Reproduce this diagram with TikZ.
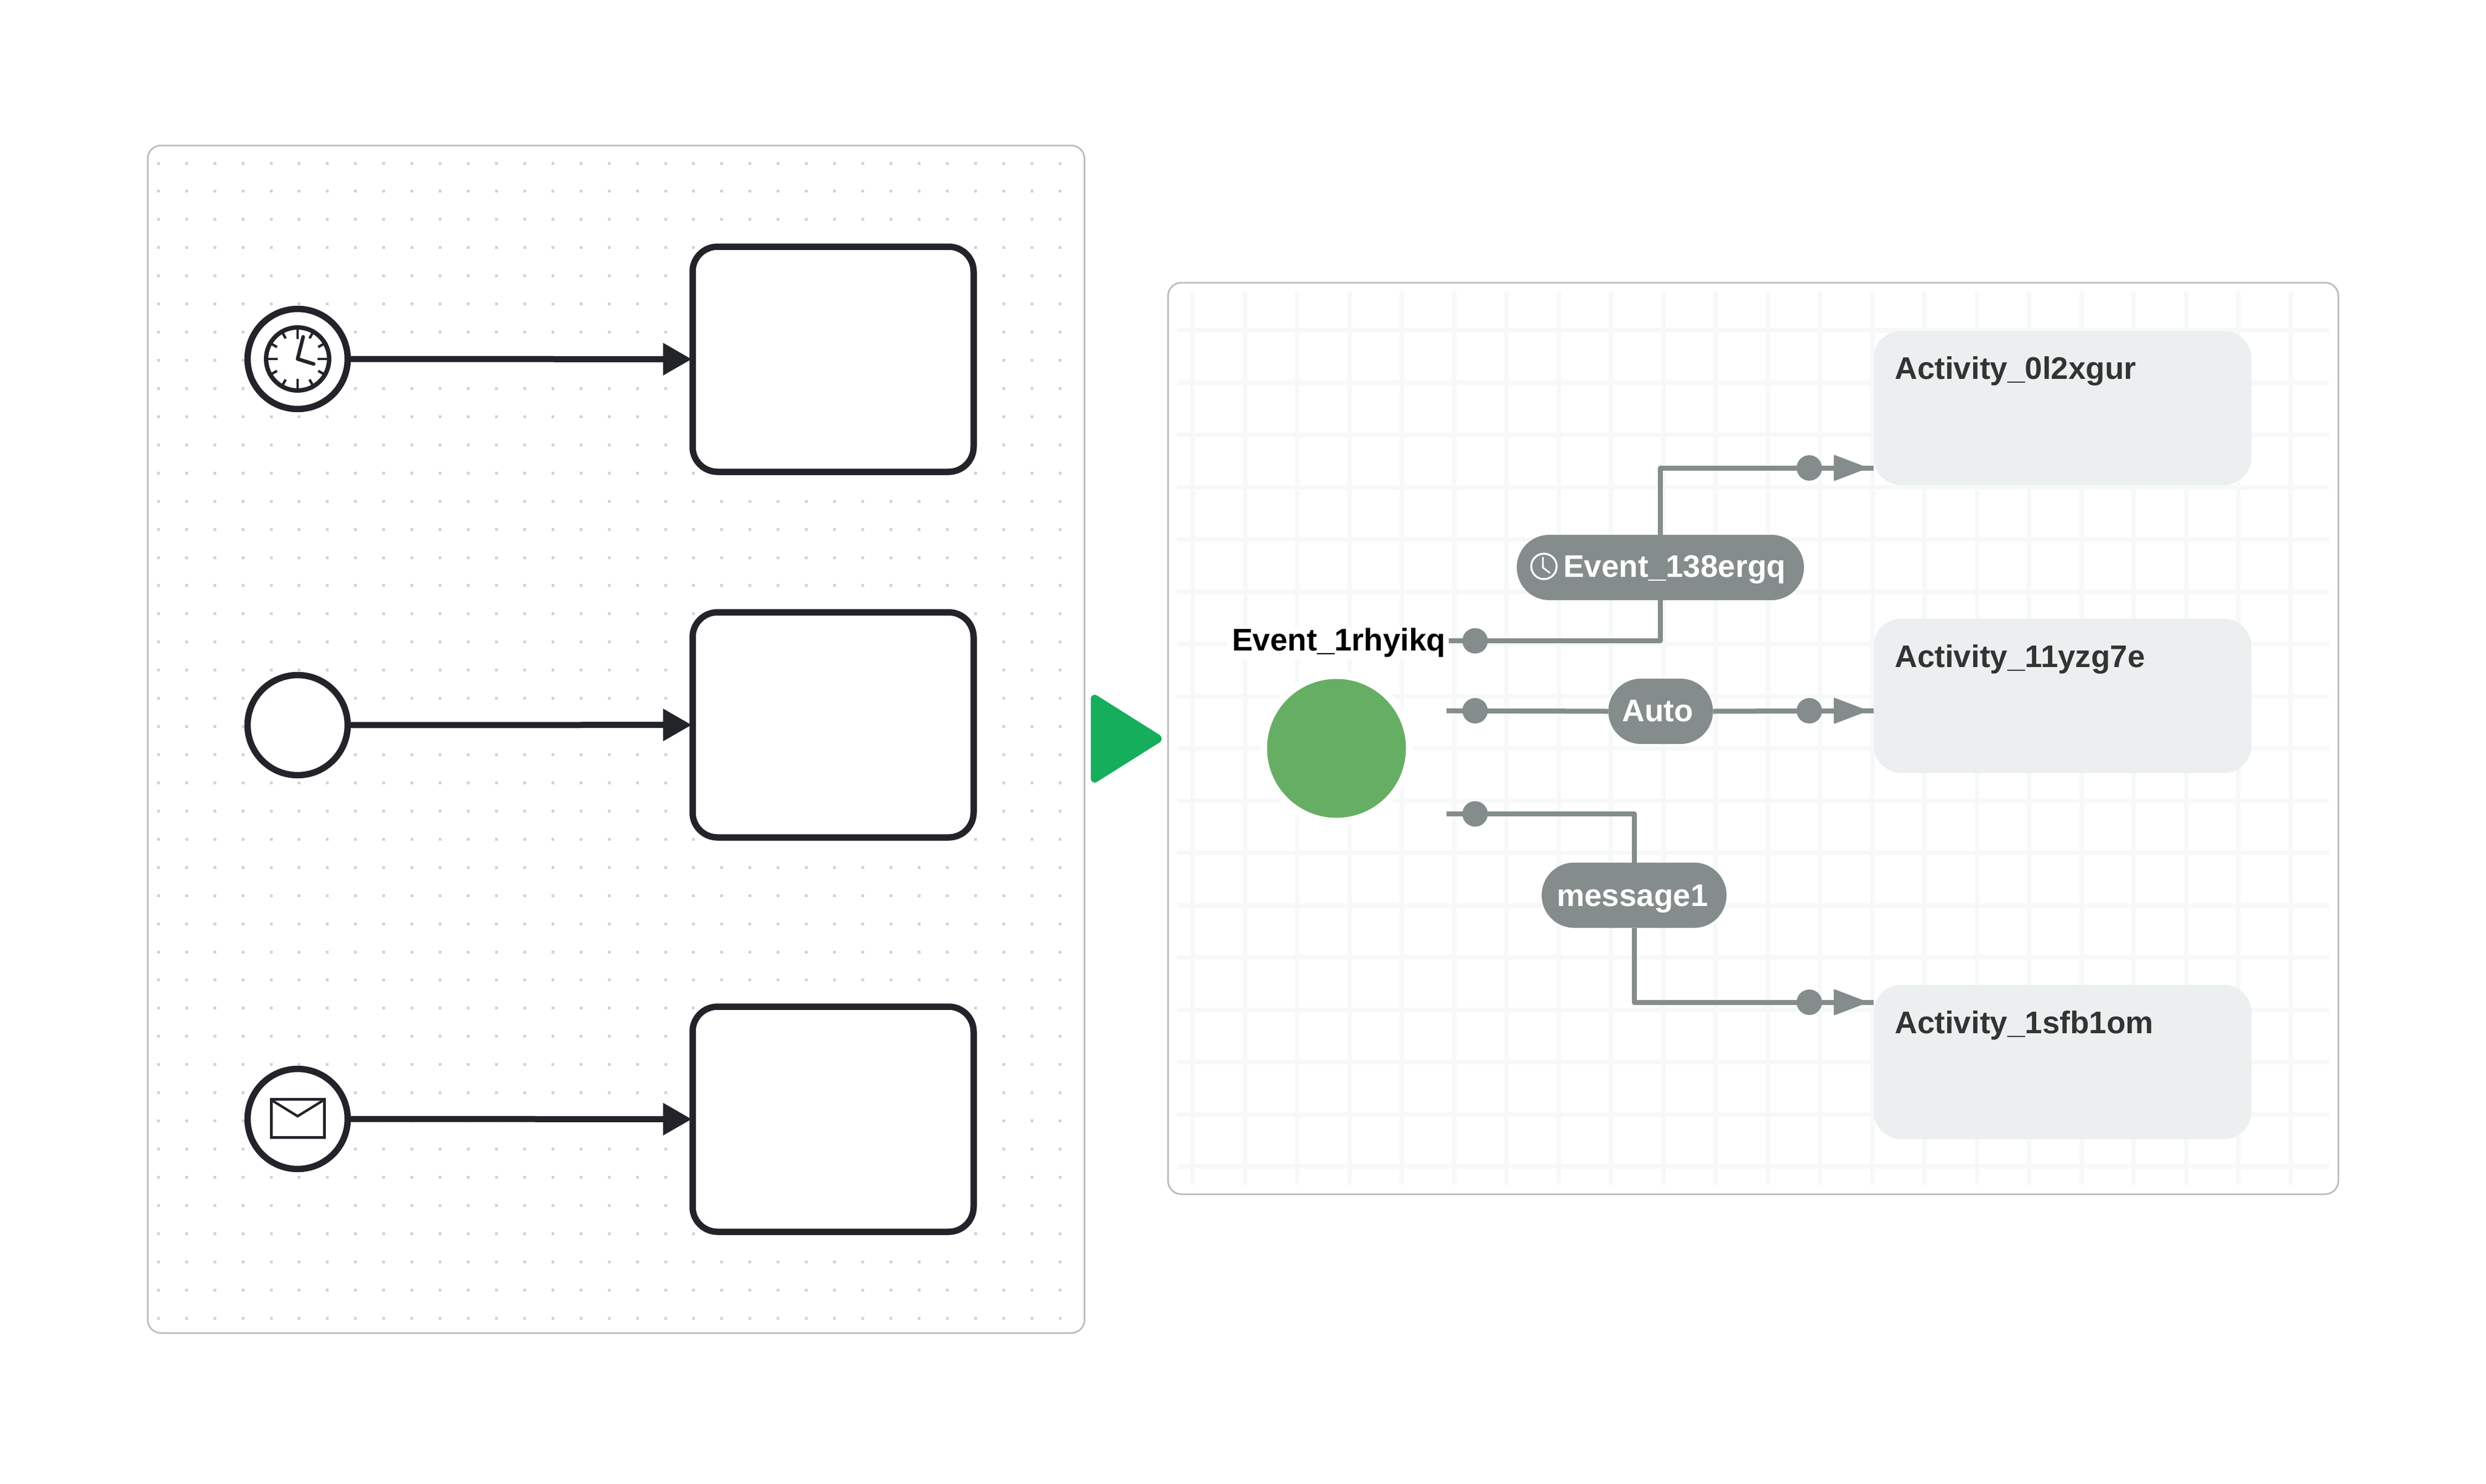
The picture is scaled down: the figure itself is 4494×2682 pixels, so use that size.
\documentclass[tikz,border=0pt]{standalone}
\usepackage{fontspec}
\setmainfont{Liberation Sans}
\usetikzlibrary{arrows.meta,calc}
\definecolor{ink}{HTML}{22242A}
\definecolor{conn}{HTML}{858C8C}
\definecolor{actfill}{HTML}{ECEFF0}
\definecolor{panelline}{HTML}{BDBDBD}
\definecolor{gridh}{HTML}{F7F8F8}
\definecolor{gridv}{HTML}{F6F8F9}
\definecolor{dotc}{HTML}{D2D2D2}
\definecolor{startgreen}{HTML}{67AE65}
\definecolor{playgreen}{HTML}{14AE5C}
\tikzset{
  panel/.style={draw=panelline,line width=3pt,fill=white,rounded corners=24pt},
  task/.style={draw=ink,line width=11.5pt,fill=white,rounded corners=45pt,rectangle,inner sep=0pt,outer sep=0pt,minimum width=508pt,minimum height=407pt},
  evt/.style={draw=ink,line width=11.5pt,fill=white,circle,inner sep=0pt,outer sep=0pt,minimum size=181pt},
  flow/.style={draw=ink,line width=11pt,shorten >=1.5pt,-{Triangle[length=52pt,width=56pt]}},
  act/.style={fill=actfill,rounded corners=50pt,rectangle,inner sep=0pt,outer sep=0pt,minimum width=683pt,minimum height=279pt},
  acttext/.style={anchor=base west,inner sep=0pt,text=black!80,font=\fontsize{56.5}{56.5}\selectfont\bfseries},
  conn line/.style={draw=conn,line width=9pt,line join=round},
  pin/.style={fill=conn,circle,inner sep=0pt,outer sep=0pt,minimum size=46pt},
  pill/.style={fill=conn,rectangle,rounded corners=58.5pt,inner sep=0pt,outer sep=0pt,minimum height=118pt},
  pilltext/.style={anchor=base west,inner sep=0pt,text=white,font=\fontsize{56.5}{56.5}\selectfont\bfseries},
  arrowtip/.pic={\fill[conn,line join=round,draw=conn,line width=2pt] (-71,-22.5) -- (-12,0) -- (-71,22.5) -- cycle;}
}
\begin{document}
\begin{tikzpicture}[x=1pt,y=-1pt]
\useasboundingbox (0,0) rectangle (4494,2682);
\fill[white] (0,0) rectangle (4494,2682);
% left panel
\draw[panel] (267,263) rectangle (1960.5,2410);
\foreach \i in {0,...,32}{\foreach \j in {0,...,41}{
  \fill[dotc] ({286.3+50.93*\i-2.5},{295+50.93*\j-2.5}) rectangle +(5,5);
}}
% right panel
\draw[panel] (2111.5,511) rectangle (4227,2159);
\foreach \j in {0,...,16}{\fill[gridh] (2128,{597+94.5*\j-4}) rectangle (4210,{597+94.5*\j+4});}
\foreach \i in {0,...,21}{\fill[gridv] ({2156+94.5*\i-4},528) rectangle ({2156+94.5*\i+4},2142);}
% left tasks and events
\node[task] (t1) at (1506,649.5) {};
\node[task] (t2) at (1506,1310.5) {};
\node[task] (t3) at (1506,2023.5) {};
\node[evt] (e1) at (538,649) {};
\node[evt] (e2) at (538,1311) {};
\node[evt] (e3) at (538,2023) {};
\draw[flow] (e1) -- (t1);
\draw[flow] (e2) -- (t2);
\draw[flow] (e3) -- (t3);
% clock icon
\draw[ink,line width=8pt] (e1.center) circle (57);
\foreach \a in {0,90,180,270}{\draw[ink,line width=4.5pt] ($(e1.center)+(\a:36)$) -- ($(e1.center)+(\a:56)$);}
\foreach \a in {30,60,120,150,210,240,300,330}{\draw[ink,line width=4.5pt] ($(e1.center)+(\a:43)$) -- ($(e1.center)+(\a:56)$);}
\draw[ink,line width=6.5pt,line cap=round,line join=round] ($(e1.center)+(10,-40)$) -- (e1.center) -- ($(e1.center)+(29,9)$);
% envelope icon
\draw[ink,line width=5pt,line join=miter] ($(e3.center)+(-48,-36)$) rectangle ($(e3.center)+(48,33)$);
\draw[ink,line width=4.5pt] ($(e3.center)+(-47,-34)$) -- ($(e3.center)+(0,-5)$) -- ($(e3.center)+(47,-34)$);
% play triangle
\fill[playgreen,rounded corners=14pt] (1972,1250.5) -- (2107,1335.5) -- (1972,1420.5) -- cycle;
% right side
\fill[white] (2416,1353) circle (139);
\node[fill=startgreen,circle,inner sep=0pt,outer sep=0pt,minimum size=251pt] (start) at (2416,1353) {};
\node[fill=white,inner sep=0pt,outer sep=0pt,minimum width=401pt,minimum height=57pt] (startbg) at (2417,1163.5) {};
\node[anchor=base west,inner sep=0pt,font=\fontsize{56.5}{56.5}\selectfont\bfseries,text=black] (startlabel) at (2227,1176) {Event\_1rhyikq};
\node[act] (a1) at (3728.5,737.5) {};
\node[act] (a2) at (3728.5,1258) {};
\node[act] (a3) at (3728.5,1920) {};
\node[acttext] (a1t) at (3425,685) {Activity\_0l2xgur};
\node[acttext] (a2t) at (3425,1206) {Activity\_11yzg7e};
\node[acttext] (a3t) at (3425,1868) {Activity\_1sfb1om};
\node[pill,minimum width=519pt] (p1) at (3001.5,1026) {};
\node[pill,minimum width=189pt] (p2) at (3002,1286) {};
\node[pill,minimum width=334pt] (p3) at (2954,1618.5) {};
\node[pilltext] (p1t) at (2826,1043) {Event\_138ergq};
\node[pilltext] (p2t) at (2932,1304) {Auto};
\node[pilltext] (p3t) at (2814,1638) {message1};
% clock on pill
\draw[white,line width=3.5pt] (2791,1024) circle (23);
\draw[white,line width=3pt] (2789,1007) -- (2789,1026) -- (2802,1036);
% start points and pins
\coordinate (s1) at (2619,1158.6);
\coordinate (s2) at (2615,1285);
\coordinate (s3) at (2615,1471.5);
\node[pin] (k1) at (2666.5,1158.6) {};
\node[pin] (k2) at (2666.5,1285) {};
\node[pin] (k3) at (2666.5,1471.5) {};
\node[pin] (m1) at (3270.7,846) {};
\node[pin] (m2) at (3270.7,1285) {};
\node[pin] (m3) at (3270.7,1812) {};
\draw[conn line] (s1) -| (p1.south);
\draw[conn line] (p1.north) |- (a1.west |- m1);
\draw[conn line] (s2) -- (p2.west);
\draw[conn line] (p2.east) -- (a2.west |- m2);
\draw[conn line] (s3) -| (p3.north);
\draw[conn line] (p3.south) |- (a3.west |- m3);
\path (a1.west |- m1) pic {arrowtip};
\path (a2.west |- m2) pic {arrowtip};
\path (a3.west |- m3) pic {arrowtip};
\end{tikzpicture}
\end{document}
